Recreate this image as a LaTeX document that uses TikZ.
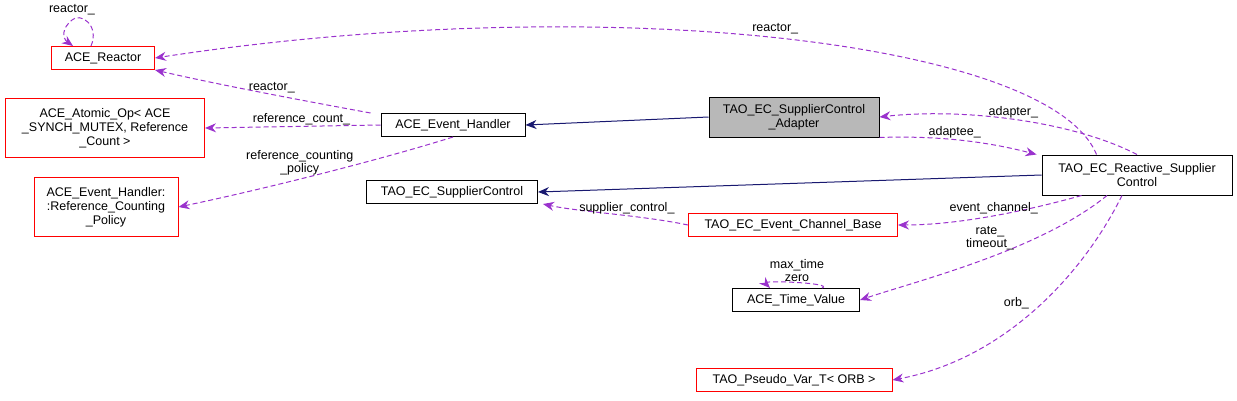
\documentclass[tikz,border=0pt]{standalone}
\usepackage{fontspec}
\setmainfont{Liberation Sans}
\usetikzlibrary{positioning,arrows.meta}
\definecolor{edgeP}{HTML}{9A32CD}
\definecolor{edgeN}{HTML}{191970}
\begin{document}
\begin{tikzpicture}
  [x=1pt,y=-1pt,
   font=\fontsize{12.5}{14}\selectfont,
   classN/.style={draw=black,fill=white,line width=1pt,inner sep=3pt,align=center},
   redN/.style={classN,draw=red},
   inheritE/.style={draw=edgeN,line width=1pt,-{Stealth[length=11pt,width=9pt]}},
   useE/.style={draw=edgeP,line width=1pt,dash pattern=on 5pt off 3pt,-{Stealth[length=11pt,width=9pt]}},
   lbl/.style={font=\fontsize{12.5}{13}\selectfont,align=center,inner sep=1pt}]

  \useasboundingbox (0,0) rectangle (1237,400);

  \node[redN,minimum width=103pt,minimum height=23pt] (reactor) at (103,58) {ACE\_Reactor};
  \node[redN,minimum width=199pt,minimum height=59pt] (atomic) at (105,128)
    {ACE\_Atomic\_Op< ACE\\\_SYNCH\_MUTEX, Reference\\\_Count >};
  \node[redN,minimum width=144pt,minimum height=59pt] (policy) at (106,207)
    {ACE\_Event\_Handler:\\:Reference\_Counting\\\_Policy};
  \node[classN,minimum width=144pt,minimum height=23pt] (handler) at (453,125) {ACE\_Event\_Handler};
  \node[classN,fill=black!28,minimum width=170pt,minimum height=40pt] (adapter) at (794,117)
    {TAO\_EC\_SupplierControl\\\_Adapter};
  \node[classN,minimum width=171pt,minimum height=23pt] (control) at (452,192) {TAO\_EC\_SupplierControl};
  \node[classN,minimum width=190pt,minimum height=40pt] (reactive) at (1137,175)
    {TAO\_EC\_Reactive\_Supplier\\Control};
  \node[redN,minimum width=209pt,minimum height=23pt] (channel) at (793,225) {TAO\_EC\_Event\_Channel\_Base};
  \node[classN,minimum width=127pt,minimum height=23pt] (time) at (796,300) {ACE\_Time\_Value};
  \node[redN,minimum width=196pt,minimum height=23pt] (orb) at (794,380) {TAO\_Pseudo\_Var\_T< ORB >};

  % inheritance
  \draw[inheritE] (adapter.west) -- (handler.east);
  \draw[inheritE] (reactive.west) -- (control.east);

  % usage
  \draw[useE] (reactive.north west) ++(55,0) .. controls (1050,40) and (600,-10) .. (reactor.east)
    node[lbl,pos=0.5,above=2pt] {reactor\_};
  \draw[useE] (reactor.north west) ++(40,0) .. controls (100,25) and (80,12) .. (72,20)
    .. controls (62,28) and (62,38) .. ([xshift=-30pt]reactor.north)
    node[lbl,pos=0,above=4pt] {reactor\_};
  \draw[useE] (handler.north west) ++(-10,0) .. controls (300,100) and (220,85) .. (reactor.south east)
    node[lbl,pos=0.45,above] {reactor\_};
  \draw[useE] (handler.west) -- (atomic.east) node[lbl,pos=0.45,above] {reference\_count\_};
  \draw[useE] (handler.south) .. controls (380,160) and (260,190) .. (policy.east)
    node[lbl,pos=0.35,left=8pt] {reference\_counting\\\_policy};
  \draw[useE] (reactive.north) .. controls (1070,120) and (960,108) .. (adapter.east)
    node[lbl,pos=0.5,above] {adapter\_};
  \draw[useE] (adapter.south east) .. controls (950,135) and (1000,145) .. ([xshift=-5pt]reactive.north west)
    node[lbl,pos=0.4,above] {adaptee\_};
  \draw[useE] ([xshift=40pt]reactive.south west) .. controls (1030,210) and (960,225) .. (channel.east)
    node[lbl,pos=0.5,above] {event\_channel\_};
  \draw[useE] (channel.west) .. controls (640,215) and (580,212) .. ([xshift=5pt]control.south east)
    node[lbl,pos=0.4,above] {supplier\_control\_};
  \draw[useE] ([xshift=-30pt]reactive.south) .. controls (1040,250) and (920,280) .. (time.east)
    node[lbl,pos=0.3,left=20pt] {rate\_\\timeout\_};
  \draw[useE] ([xshift=26pt]time.north) .. controls (835,283) and (762,280) .. ([xshift=-26pt]time.north);
  \node[lbl] (timeL) at (797,271) {max\_time\\zero};
  \draw[useE] ([xshift=-15pt]reactive.south) .. controls (1080,280) and (1000,360) .. (orb.east)
    node[lbl,pos=0.5,above left=2pt] {orb\_};
\end{tikzpicture}
\end{document}
